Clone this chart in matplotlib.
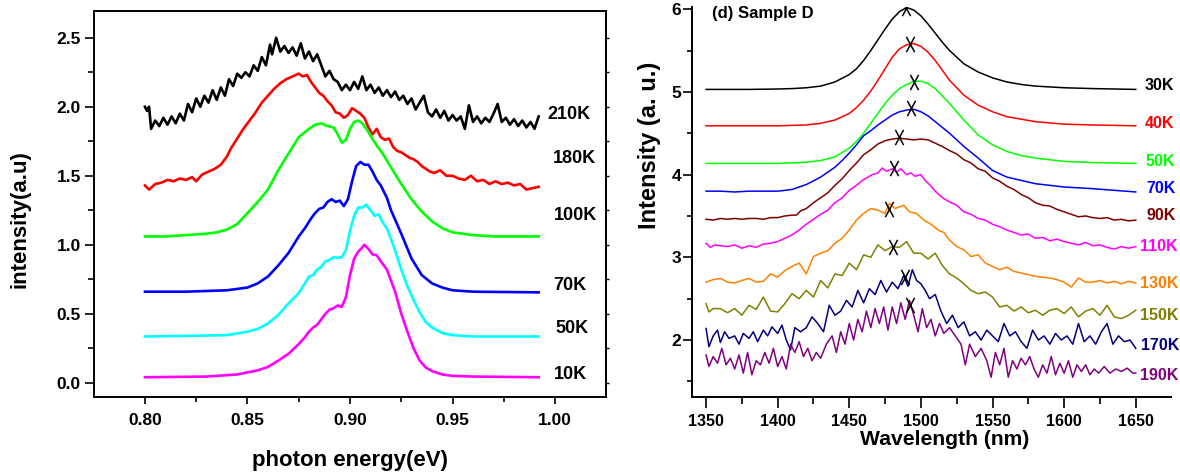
import matplotlib
matplotlib.use("Agg")
import matplotlib.pyplot as plt
from matplotlib.ticker import MultipleLocator
from matplotlib.path import Path
from matplotlib import font_manager as fm

# ---------------- Left panel data (photon energy, eV) ----------------
left_labels = ["210K", "180K", "100K", "70K", "50K", "10K"]
left_colors = ["#000000", "#FF0000", "#00FF00", "#0000FF", "#00FFFF", "#FF00FF"]

e_210K = [0.800, 0.801, 0.802, 0.803, 0.805, 0.807, 0.809, 0.811, 0.813, 0.815, 0.817, 0.819,
          0.821, 0.823, 0.825, 0.827, 0.829, 0.831, 0.833, 0.835, 0.837, 0.839, 0.841, 0.843,
          0.845, 0.847, 0.849, 0.851, 0.853, 0.855, 0.857, 0.859, 0.861, 0.862, 0.864, 0.866,
          0.868, 0.870, 0.872, 0.874, 0.876, 0.878, 0.880, 0.882, 0.884, 0.886, 0.888, 0.890,
          0.892, 0.894, 0.896, 0.898, 0.900, 0.902, 0.904, 0.906, 0.908, 0.910, 0.912, 0.914,
          0.916, 0.918, 0.920, 0.922, 0.924, 0.926, 0.928, 0.930, 0.932, 0.934, 0.936, 0.938,
          0.940, 0.942, 0.944, 0.946, 0.948, 0.950, 0.952, 0.954, 0.956, 0.958, 0.960, 0.962,
          0.964, 0.966, 0.968, 0.970, 0.972, 0.974, 0.976, 0.978, 0.980, 0.982, 0.984, 0.986,
          0.988, 0.990, 0.992]
i_210K = [2.00, 1.97, 2.00, 1.84, 1.90, 1.86, 1.92, 1.87, 1.93, 1.88, 1.95, 1.90,
          2.02, 1.96, 2.06, 2.00, 2.08, 2.03, 2.12, 2.05, 2.14, 2.08, 2.20, 2.15,
          2.24, 2.21, 2.25, 2.22, 2.30, 2.26, 2.36, 2.30, 2.45, 2.38, 2.50, 2.40,
          2.44, 2.39, 2.43, 2.37, 2.46, 2.35, 2.40, 2.33, 2.38, 2.30, 2.22, 2.26,
          2.20, 2.18, 2.12, 2.16, 2.12, 2.18, 2.13, 2.22, 2.12, 2.16, 2.10, 2.14,
          2.08, 2.12, 2.07, 2.11, 2.05, 2.08, 2.02, 2.06, 1.98, 2.03, 2.08, 1.96,
          1.93, 1.98, 1.92, 1.97, 1.90, 1.94, 1.90, 1.93, 1.84, 2.01, 1.89, 1.93,
          1.88, 1.92, 1.89, 1.95, 2.02, 1.89, 1.92, 1.87, 1.91, 1.86, 1.90, 1.85,
          1.89, 1.84, 1.93]

e_180K = [0.800, 0.802, 0.805, 0.808, 0.811, 0.814, 0.817, 0.820, 0.823, 0.825, 0.828, 0.831,
          0.834, 0.837, 0.840, 0.842, 0.845, 0.848, 0.851, 0.854, 0.857, 0.860, 0.863, 0.866,
          0.869, 0.872, 0.875, 0.877, 0.879, 0.881, 0.883, 0.885, 0.887, 0.889, 0.891, 0.893,
          0.895, 0.897, 0.899, 0.901, 0.903, 0.905, 0.907, 0.909, 0.911, 0.913, 0.915, 0.917,
          0.919, 0.921, 0.923, 0.925, 0.927, 0.929, 0.931, 0.933, 0.935, 0.937, 0.939, 0.941,
          0.944, 0.947, 0.950, 0.953, 0.956, 0.959, 0.962, 0.965, 0.968, 0.971, 0.974, 0.977,
          0.980, 0.983, 0.986, 0.989, 0.992]
i_180K = [1.43, 1.40, 1.44, 1.45, 1.47, 1.46, 1.48, 1.47, 1.49, 1.46, 1.51, 1.53,
          1.55, 1.58, 1.64, 1.70, 1.77, 1.84, 1.90, 1.96, 2.03, 2.08, 2.13, 2.17,
          2.20, 2.22, 2.24, 2.22, 2.23, 2.18, 2.14, 2.10, 2.08, 2.04, 2.01, 1.96,
          1.95, 1.92, 1.94, 1.99, 1.97, 1.95, 1.92, 1.85, 1.80, 1.84, 1.78, 1.76,
          1.77, 1.71, 1.68, 1.67, 1.65, 1.63, 1.62, 1.60, 1.57, 1.55, 1.53, 1.52,
          1.54, 1.50, 1.50, 1.48, 1.47, 1.50, 1.46, 1.47, 1.44, 1.46, 1.44, 1.45,
          1.43, 1.44, 1.40, 1.41, 1.42]

e_100K = [0.800, 0.810, 0.820, 0.830, 0.835, 0.840, 0.845, 0.850, 0.855, 0.860, 0.865, 0.870,
          0.875, 0.880, 0.883, 0.886, 0.889, 0.892, 0.894, 0.896, 0.898, 0.900, 0.902, 0.904,
          0.906, 0.908, 0.910, 0.913, 0.916, 0.920, 0.925, 0.930, 0.935, 0.940, 0.945, 0.950,
          0.955, 0.960, 0.970, 0.980, 0.992]
i_100K = [1.06, 1.06, 1.07, 1.08, 1.09, 1.11, 1.15, 1.23, 1.31, 1.40, 1.54, 1.66,
          1.78, 1.84, 1.87, 1.88, 1.86, 1.85, 1.80, 1.74, 1.76, 1.84, 1.89, 1.90,
          1.88, 1.84, 1.79, 1.72, 1.66, 1.56, 1.44, 1.33, 1.24, 1.17, 1.12, 1.09,
          1.08, 1.07, 1.06, 1.06, 1.06]

e_70K = [0.800, 0.820, 0.840, 0.850, 0.855, 0.860, 0.865, 0.870, 0.875, 0.878, 0.881, 0.883,
         0.885, 0.887, 0.889, 0.891, 0.893, 0.895, 0.897, 0.899, 0.901, 0.903, 0.905, 0.907,
         0.909, 0.911, 0.913, 0.915, 0.918, 0.920, 0.925, 0.930, 0.935, 0.940, 0.945, 0.950,
         0.960, 0.992]
i_70K = [0.66, 0.66, 0.67, 0.69, 0.72, 0.77, 0.85, 0.94, 1.06, 1.12, 1.19, 1.23,
         1.26, 1.27, 1.31, 1.33, 1.31, 1.32, 1.28, 1.33, 1.46, 1.57, 1.60, 1.58,
         1.58, 1.53, 1.47, 1.43, 1.34, 1.25, 1.08, 0.90, 0.78, 0.72, 0.69, 0.67,
         0.66, 0.655]

e_50K = [0.800, 0.840, 0.850, 0.855, 0.860, 0.865, 0.870, 0.875, 0.878, 0.880, 0.882, 0.884,
         0.886, 0.888, 0.890, 0.892, 0.894, 0.896, 0.898, 0.900, 0.902, 0.904, 0.906, 0.908,
         0.910, 0.912, 0.914, 0.916, 0.918, 0.920, 0.922, 0.925, 0.928, 0.931, 0.934, 0.937,
         0.940, 0.945, 0.950, 0.960, 0.992]
i_50K = [0.335, 0.345, 0.37, 0.39, 0.43, 0.49, 0.575, 0.65, 0.72, 0.77, 0.78, 0.82,
         0.84, 0.88, 0.89, 0.91, 0.905, 0.91, 0.96, 1.10, 1.21, 1.27, 1.27, 1.29,
         1.25, 1.21, 1.22, 1.16, 1.12, 1.04, 0.96, 0.82, 0.70, 0.60, 0.51, 0.44,
         0.40, 0.36, 0.345, 0.335, 0.335]

e_10K = [0.800, 0.830, 0.845, 0.850, 0.855, 0.860, 0.865, 0.870, 0.875, 0.878, 0.880, 0.882,
         0.884, 0.886, 0.888, 0.890, 0.892, 0.894, 0.896, 0.898, 0.900, 0.902, 0.904, 0.906,
         0.907, 0.909, 0.911, 0.913, 0.915, 0.918, 0.920, 0.922, 0.925, 0.928, 0.931, 0.934,
         0.937, 0.940, 0.945, 0.950, 0.960, 0.992]
i_10K = [0.04, 0.045, 0.06, 0.075, 0.09, 0.115, 0.16, 0.21, 0.28, 0.33, 0.37, 0.40,
         0.42, 0.46, 0.50, 0.53, 0.54, 0.56, 0.55, 0.62, 0.78, 0.90, 0.95, 0.98,
         1.00, 0.97, 0.93, 0.925, 0.88, 0.82, 0.74, 0.66, 0.50, 0.37, 0.25, 0.16,
         0.11, 0.085, 0.06, 0.05, 0.045, 0.04]

left_x = [e_210K, e_180K, e_100K, e_70K, e_50K, e_10K]
left_y = [i_210K, i_180K, i_100K, i_70K, i_50K, i_10K]
left_label_x = [0.9963, 0.999, 0.9994, 0.999, 1.0004, 0.9995]
left_label_y = [1.947, 1.626, 1.215, 0.708, 0.394, 0.062]

# ---------------- Right panel data (wavelength, nm) ----------------
right_labels = ["30K", "40K", "50K", "70K", "90K", "110K", "130K", "150K", "170K", "190K"]
right_colors = ["#000000", "#FF0000", "#00FF00", "#0000FF", "#800000",
                "#FF00FF", "#FF8000", "#808000", "#000080", "#800080"]

w_30K = [1350, 1380, 1400, 1410, 1420, 1430, 1440, 1450, 1455, 1460, 1465, 1470, 1475, 1480,
         1485, 1490, 1495, 1500, 1505, 1510, 1515, 1520, 1530, 1540, 1550, 1560, 1570, 1580,
         1600, 1620, 1650]
s_30K = [5.03, 5.03, 5.035, 5.04, 5.05, 5.07, 5.12, 5.21, 5.28, 5.38, 5.50, 5.63, 5.76, 5.88,
         5.97, 6.02, 5.99, 5.92, 5.82, 5.71, 5.60, 5.50, 5.34, 5.24, 5.17, 5.12, 5.09, 5.07,
         5.05, 5.04, 5.03]

w_40K = [1350, 1400, 1420, 1430, 1440, 1450, 1455, 1460, 1465, 1470, 1475, 1480, 1485, 1490,
         1495, 1500, 1505, 1510, 1515, 1520, 1530, 1540, 1550, 1560, 1570, 1580, 1600, 1620, 1650]
s_40K = [4.59, 4.59, 4.60, 4.62, 4.66, 4.74, 4.81, 4.90, 5.01, 5.14, 5.28, 5.42, 5.52, 5.57,
         5.585, 5.55, 5.48, 5.38, 5.26, 5.14, 4.96, 4.84, 4.76, 4.70, 4.67, 4.64, 4.61, 4.60, 4.59]

w_50K = [1350, 1400, 1420, 1430, 1440, 1450, 1455, 1460, 1465, 1470, 1475, 1480, 1485, 1490,
         1495, 1500, 1505, 1510, 1515, 1520, 1530, 1540, 1550, 1560, 1570, 1580, 1600, 1620, 1650]
s_50K = [4.135, 4.135, 4.15, 4.17, 4.215, 4.32, 4.40, 4.50, 4.62, 4.74, 4.86, 4.96, 5.04, 5.09,
         5.125, 5.13, 5.10, 5.04, 4.95, 4.86, 4.66, 4.48, 4.36, 4.28, 4.23, 4.20, 4.16, 4.145, 4.135]

w_70K = [1350, 1360, 1370, 1380, 1390, 1400, 1410, 1420, 1430, 1440, 1445, 1450, 1455, 1460,
         1465, 1470, 1475, 1480, 1485, 1490, 1495, 1500, 1505, 1510, 1520, 1530, 1540, 1550,
         1560, 1570, 1580, 1590, 1600, 1620, 1650]
s_70K = [3.80, 3.80, 3.79, 3.80, 3.80, 3.80, 3.82, 3.88, 3.97, 4.09, 4.17, 4.26, 4.36, 4.47,
         4.53, 4.60, 4.66, 4.72, 4.76, 4.78, 4.79, 4.76, 4.71, 4.64, 4.50, 4.34, 4.20, 4.05,
         3.97, 3.93, 3.89, 3.87, 3.85, 3.83, 3.79]

w_90K = [1350, 1355, 1360, 1365, 1370, 1375, 1380, 1385, 1390, 1395, 1400, 1405, 1410, 1413,
         1416, 1420, 1425, 1430, 1435, 1440, 1445, 1450, 1455, 1460, 1465, 1470, 1475, 1480,
         1485, 1490, 1495, 1500, 1505, 1510, 1515, 1520, 1525, 1530, 1535, 1540, 1545, 1550,
         1555, 1560, 1565, 1570, 1575, 1580, 1585, 1590, 1595, 1600, 1605, 1610, 1615, 1620,
         1625, 1630, 1635, 1640, 1645, 1650]
s_90K = [3.46, 3.45, 3.47, 3.46, 3.47, 3.46, 3.47, 3.47, 3.46, 3.48, 3.48, 3.50, 3.51, 3.51,
         3.56, 3.59, 3.66, 3.72, 3.78, 3.87, 3.95, 4.05, 4.14, 4.24, 4.30, 4.37, 4.41, 4.43,
         4.44, 4.43, 4.42, 4.43, 4.42, 4.38, 4.34, 4.29, 4.25, 4.18, 4.14, 4.07, 4.04, 3.96,
         3.92, 3.86, 3.82, 3.76, 3.72, 3.66, 3.63, 3.62, 3.58, 3.55, 3.52, 3.49, 3.50, 3.48,
         3.47, 3.48, 3.45, 3.46, 3.44, 3.45]

w_110K = [1350, 1353, 1356, 1360, 1365, 1370, 1375, 1380, 1385, 1390, 1395, 1400, 1405, 1410,
          1415, 1420, 1425, 1430, 1435, 1440, 1445, 1450, 1455, 1460, 1463, 1466, 1470, 1473,
          1476, 1480, 1483, 1486, 1490, 1493, 1496, 1500, 1503, 1506, 1510, 1515, 1520, 1525,
          1530, 1535, 1540, 1545, 1550, 1555, 1560, 1565, 1570, 1575, 1580, 1585, 1590, 1595,
          1600, 1605, 1610, 1615, 1620, 1625, 1630, 1635, 1640, 1645, 1650]
s_110K = [3.17, 3.12, 3.15, 3.14, 3.13, 3.15, 3.11, 3.14, 3.12, 3.16, 3.17, 3.19, 3.23, 3.27,
          3.33, 3.40, 3.46, 3.52, 3.57, 3.66, 3.72, 3.81, 3.87, 3.94, 3.97, 4.00, 4.02, 4.08,
          4.04, 4.07, 4.03, 4.07, 4.00, 4.02, 3.98, 4.00, 3.93, 3.88, 3.80, 3.72, 3.67, 3.63,
          3.55, 3.52, 3.47, 3.45, 3.40, 3.37, 3.33, 3.30, 3.27, 3.28, 3.23, 3.24, 3.20, 3.22,
          3.19, 3.17, 3.15, 3.18, 3.14, 3.15, 3.12, 3.10, 3.13, 3.11, 3.13]

w_130K = [1350, 1355, 1360, 1365, 1370, 1375, 1380, 1385, 1390, 1395, 1400, 1405, 1410, 1415,
          1420, 1425, 1430, 1435, 1440, 1445, 1450, 1455, 1460, 1465, 1470, 1475, 1478, 1482,
          1488, 1492, 1497, 1502, 1507, 1512, 1516, 1520, 1525, 1530, 1535, 1540, 1545, 1550,
          1555, 1560, 1565, 1570, 1575, 1580, 1585, 1590, 1595, 1600, 1605, 1610, 1615, 1620,
          1625, 1630, 1635, 1640, 1645, 1650]
s_130K = [2.70, 2.73, 2.745, 2.70, 2.69, 2.72, 2.745, 2.70, 2.71, 2.80, 2.76, 2.84, 2.89, 2.93,
          2.80, 3.01, 3.05, 3.08, 3.17, 3.23, 3.33, 3.45, 3.53, 3.59, 3.57, 3.53, 3.65, 3.59,
          3.63, 3.55, 3.53, 3.45, 3.40, 3.33, 3.30, 3.21, 3.13, 3.09, 3.01, 3.03, 2.93, 2.89,
          2.85, 2.88, 2.83, 2.81, 2.79, 2.77, 2.76, 2.75, 2.73, 2.70, 2.64, 2.75, 2.70, 2.70,
          2.72, 2.69, 2.71, 2.68, 2.71, 2.69]

w_150K = [1350, 1352, 1355, 1360, 1365, 1370, 1375, 1380, 1385, 1390, 1395, 1400, 1405, 1410,
          1415, 1420, 1425, 1430, 1435, 1440, 1445, 1450, 1455, 1460, 1465, 1470, 1475, 1480,
          1485, 1490, 1495, 1500, 1505, 1510, 1515, 1520, 1525, 1530, 1535, 1540, 1545, 1550,
          1555, 1560, 1565, 1570, 1575, 1580, 1585, 1590, 1595, 1600, 1605, 1610, 1615, 1620,
          1625, 1630, 1635, 1640, 1645, 1650]
s_150K = [2.44, 2.34, 2.38, 2.38, 2.33, 2.38, 2.30, 2.42, 2.37, 2.52, 2.35, 2.34, 2.44, 2.56,
          2.50, 2.60, 2.52, 2.72, 2.63, 2.80, 2.78, 2.93, 2.85, 3.03, 3.00, 3.15, 3.08, 3.13,
          3.12, 3.19, 3.05, 3.05, 2.98, 3.05, 2.90, 2.80, 2.75, 2.68, 2.60, 2.56, 2.58, 2.52,
          2.40, 2.42, 2.35, 2.40, 2.33, 2.36, 2.30, 2.36, 2.38, 2.32, 2.40, 2.28, 2.35, 2.38,
          2.30, 2.42, 2.28, 2.26, 2.30, 2.36]

w_170K = [1350, 1352, 1355, 1358, 1360, 1363, 1366, 1370, 1373, 1376, 1380, 1383, 1386, 1390,
          1393, 1396, 1400, 1403, 1406, 1409, 1412, 1416, 1420, 1424, 1428, 1432, 1436, 1440,
          1444, 1448, 1452, 1456, 1460, 1464, 1468, 1472, 1476, 1480, 1484, 1488, 1491, 1494,
          1497, 1500, 1503, 1506, 1510, 1514, 1518, 1522, 1526, 1530, 1534, 1538, 1542, 1546,
          1550, 1554, 1558, 1562, 1566, 1570, 1574, 1578, 1582, 1586, 1590, 1594, 1598, 1602,
          1606, 1610, 1614, 1618, 1622, 1626, 1630, 1634, 1638, 1642, 1646, 1650]
s_170K = [2.14, 1.92, 2.05, 2.12, 1.97, 2.10, 2.02, 2.05, 1.95, 2.08, 2.02, 2.10, 1.98, 2.12,
          2.05, 2.16, 2.08, 2.18, 2.00, 1.88, 2.15, 2.10, 2.15, 2.28, 2.20, 2.10, 2.42, 2.30,
          2.35, 2.48, 2.40, 2.60, 2.45, 2.62, 2.55, 2.72, 2.58, 2.70, 2.62, 2.78, 2.65, 2.85,
          2.72, 2.68, 2.60, 2.50, 2.55, 2.35, 2.20, 2.30, 2.15, 2.22, 2.05, 2.10, 2.00, 2.12,
          2.05, 1.98, 2.20, 2.05, 2.10, 1.98, 1.90, 2.12, 2.00, 2.05, 1.95, 2.08, 2.00, 2.05,
          1.95, 2.20, 1.98, 2.05, 1.95, 2.10, 2.20, 1.95, 2.05, 1.98, 2.00, 1.90]

w_190K = [1350, 1352, 1355, 1358, 1361, 1364, 1367, 1370, 1373, 1376, 1379, 1382, 1385, 1388,
          1391, 1394, 1397, 1400, 1403, 1406, 1409, 1412, 1415, 1418, 1421, 1424, 1427, 1430,
          1434, 1438, 1441, 1444, 1447, 1450, 1453, 1456, 1459, 1462, 1465, 1468, 1471, 1474,
          1477, 1480, 1483, 1486, 1489, 1492, 1495, 1498, 1501, 1504, 1507, 1510, 1513, 1516,
          1520, 1524, 1528, 1531, 1534, 1538, 1542, 1546, 1549, 1552, 1555, 1558, 1561, 1564,
          1567, 1570, 1573, 1576, 1579, 1582, 1585, 1588, 1591, 1594, 1597, 1600, 1603, 1606,
          1609, 1612, 1615, 1618, 1621, 1624, 1628, 1632, 1636, 1640, 1644, 1648, 1650]
s_190K = [1.82, 1.68, 1.80, 1.72, 1.90, 1.70, 1.78, 1.65, 1.82, 1.60, 1.85, 1.58, 1.75, 1.70,
          1.85, 1.72, 1.90, 1.68, 1.80, 1.65, 1.95, 1.85, 1.98, 1.80, 1.90, 1.75, 1.85, 1.78,
          1.95, 2.05, 1.85, 2.10, 1.95, 2.20, 2.00, 2.25, 2.10, 2.35, 2.15, 2.38, 2.20, 2.40,
          2.12, 2.40, 2.20, 2.45, 2.25, 2.48, 2.30, 2.10, 2.38, 2.15, 2.25, 2.05, 2.20, 2.08,
          2.15, 2.05, 1.95, 1.70, 1.95, 1.80, 1.90, 1.75, 1.55, 1.85, 1.70, 1.90, 1.55, 1.75,
          1.65, 1.78, 1.70, 1.80, 1.65, 1.55, 1.70, 1.60, 1.80, 1.58, 1.72, 1.60, 1.75, 1.55,
          1.70, 1.62, 1.70, 1.58, 1.65, 1.60, 1.68, 1.60, 1.65, 1.62, 1.66, 1.60, 1.60]

right_x = [w_30K, w_40K, w_50K, w_70K, w_90K, w_110K, w_130K, w_150K, w_170K, w_190K]
right_y = [s_30K, s_40K, s_50K, s_70K, s_90K, s_110K, s_130K, s_150K, s_170K, s_190K]

# peak markers (X)
peak_wl = [1489.4, 1492.4, 1495.5, 1493.1, 1484.8, 1481.5, 1478.0, 1480.8, 1489.0, 1492.4]
peak_int = [6.02, 5.585, 5.12, 4.81, 4.45, 4.075, 3.59, 3.13, 2.76, 2.42]

right_label_x = [1656.5, 1656.5, 1657.0, 1657.5, 1657.5, 1653.0, 1653.0, 1653.0, 1653.5, 1653.0]
right_label_y = [5.08, 4.62, 4.155, 3.833, 3.51, 3.127, 2.685, 2.30, 1.94, 1.577]

# ---------------- Fonts ----------------
ARIAL = ["Liberation Sans", "DejaVu Sans"]
_names = {f.name for f in fm.fontManager.ttflist}
if "Liberation Sans Narrow" in _names:
    NARROW = ["Liberation Sans Narrow", "Liberation Sans", "DejaVu Sans"]
    NSCALE = 1.0
else:
    NARROW = ARIAL
    NSCALE = 0.92   # no condensed face: shrink a little toward the condensed widths

# ---------------- Figure ----------------
fig = plt.figure(figsize=(11.8, 4.75), dpi=100)

# ---- left panel ----
axL = fig.add_axes([94.3 / 1180, 1 - 396.7 / 475, (605.7 - 94.3) / 1180, (396.7 - 10.7) / 475])
for xs, ys, c in zip(left_x, left_y, left_colors):
    axL.plot(xs, ys, color=c, lw=1.9, solid_joinstyle="round")
axL.set_xlim(0.7753, 1.0247)
axL.set_ylim(-0.101, 2.696)
axL.xaxis.set_major_locator(MultipleLocator(0.05))
axL.xaxis.set_minor_locator(MultipleLocator(0.025))
axL.yaxis.set_major_locator(MultipleLocator(0.5))
axL.yaxis.set_minor_locator(MultipleLocator(0.25))
axL.xaxis.set_major_formatter(plt.FormatStrFormatter("%.2f"))
axL.yaxis.set_major_formatter(plt.FormatStrFormatter("%.1f"))
axL.tick_params(axis="x", which="major", direction="out", length=4.8, width=1.2, pad=7)
axL.tick_params(axis="x", which="minor", direction="out", length=3.8, width=1.2)
axL.tick_params(axis="y", which="major", direction="out", length=6.7, width=1.2, pad=3)
axL.tick_params(axis="y", which="minor", direction="out", length=4.3, width=1.2)
for sp in axL.spines.values():
    sp.set_linewidth(1.4)
for lab in axL.get_xticklabels() + axL.get_yticklabels():
    lab.set_fontfamily(ARIAL)
    lab.set_fontweight("bold")
    lab.set_fontsize(12.5)
secL = axL.secondary_yaxis("right")
secL.yaxis.set_major_locator(MultipleLocator(0.25))
secL.tick_params(direction="out", length=2.0, width=1.0, labelright=False)
secL.spines["right"].set_linewidth(1.4)

axL.set_xlabel("photon energy(eV)", fontsize=16, fontweight="bold", family=ARIAL)
axL.xaxis.label.set_va("center")
axL.xaxis.set_label_coords(0.5, -0.164)
axL.set_ylabel("intensity(a.u)", fontsize=16, fontweight="bold", family=ARIAL)
axL.yaxis.label.set_va("center")
axL.yaxis.set_label_coords(-0.145, 0.46)

for lab, lx, ly in zip(left_labels, left_label_x, left_label_y):
    axL.text(lx, ly, lab, fontsize=13, fontweight="bold", family=ARIAL,
             ha="left", va="center", clip_on=False)

# ---- right panel ----
axR = fig.add_axes([692.3 / 1180, 1 - 396.7 / 475, (1171 - 692.3) / 1180, (396.7 - 6.7) / 475])
for xs, ys, c in zip(right_x, right_y, right_colors):
    axR.plot(xs, ys, color=c, lw=1.1)

xmark = Path([(-0.27, -0.5), (0.27, 0.5), (-0.27, 0.5), (0.27, -0.5)],
             [Path.MOVETO, Path.LINETO, Path.MOVETO, Path.LINETO])
axR.plot(peak_wl, peak_int, linestyle="none", marker=xmark, markersize=11,
         markeredgecolor="black", markerfacecolor="none", markeredgewidth=1.1, zorder=5)

axR.set_xlim(1340.4, 1674.6)
axR.set_ylim(1.315, 6.03)
axR.spines["top"].set_visible(False)
axR.spines["right"].set_visible(False)
for sp in ("left", "bottom"):
    axR.spines[sp].set_linewidth(1.4)
axR.xaxis.set_major_locator(MultipleLocator(50))
axR.xaxis.set_minor_locator(MultipleLocator(25))
axR.yaxis.set_major_locator(MultipleLocator(1))
axR.yaxis.set_minor_locator(MultipleLocator(0.5))
axR.tick_params(axis="x", which="major", direction="out", length=7.7, width=1.2, pad=4.4)
axR.tick_params(axis="x", which="minor", direction="out", length=4.8, width=1.2)
axR.tick_params(axis="y", which="major", direction="out", length=6.5, width=1.2, pad=1.5)
axR.tick_params(axis="y", which="minor", direction="out", length=3.6, width=1.2)
for lab in axR.get_xticklabels():
    lab.set_fontfamily(NARROW)
    lab.set_fontweight("bold")
    lab.set_fontsize(12.5 * NSCALE)
for lab in axR.get_yticklabels():
    lab.set_fontfamily(ARIAL)
    lab.set_fontweight("bold")
    lab.set_fontsize(12.5)

axR.set_xlabel("Wavelength (nm)", fontsize=16.5 * NSCALE, fontweight="bold", family=NARROW)
axR.xaxis.label.set_va("center")
axR.xaxis.set_label_coords(0.528, -0.111)
axR.set_ylabel("Intensity (a. u.)", fontsize=17, fontweight="bold", family=ARIAL)
axR.yaxis.label.set_va("center")
axR.yaxis.set_label_coords(-0.0884, 0.645)

axR.text(0.0405, 0.983, "(d) Sample D", transform=axR.transAxes, fontsize=13 * NSCALE,
         fontweight="bold", family=NARROW, ha="left", va="center")

for lab, lx, ly, c in zip(right_labels, right_label_x, right_label_y, right_colors):
    axR.text(lx, ly, lab, fontsize=12.5 * NSCALE, fontweight="bold", family=NARROW, color=c,
             ha="left", va="center", clip_on=False)

fig.savefig("out.png", dpi=100)
